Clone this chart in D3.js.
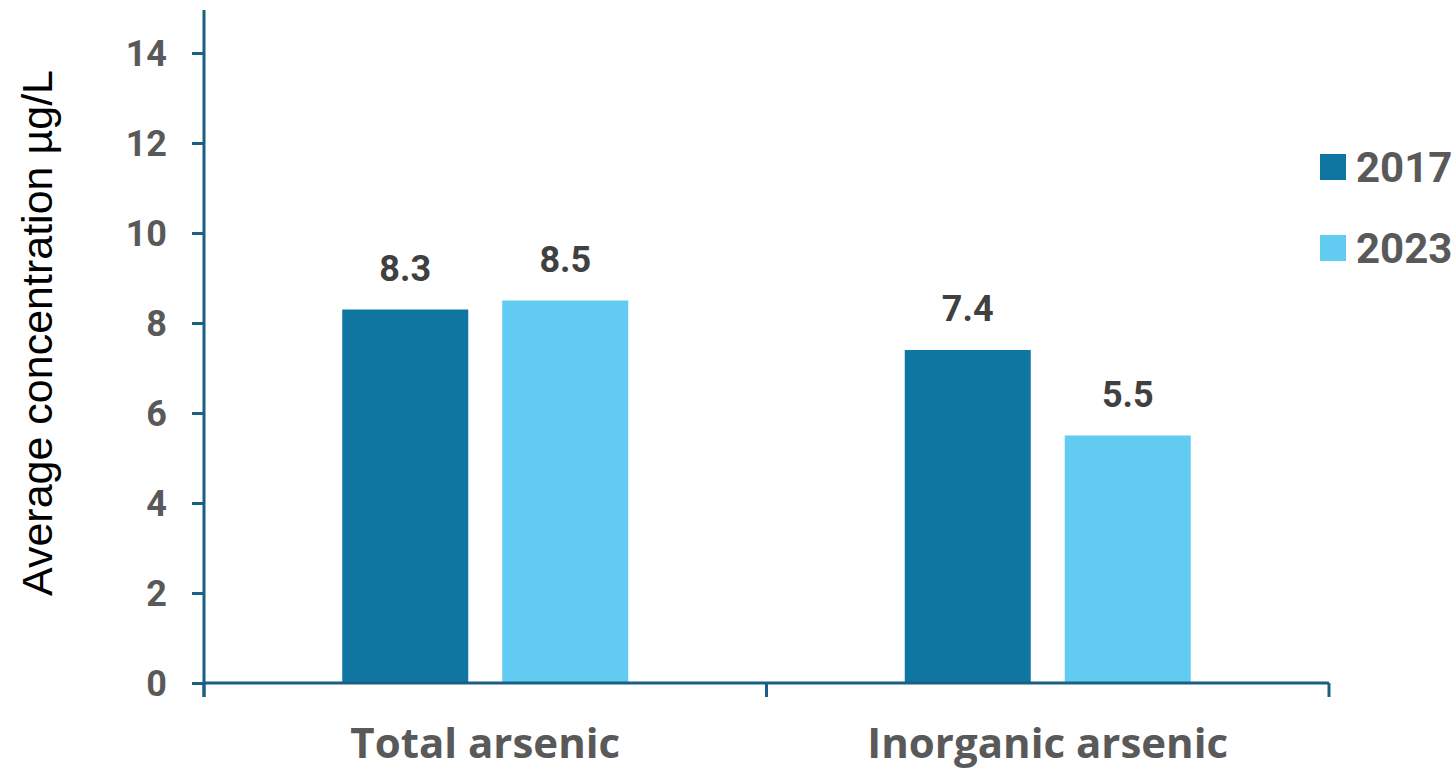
<!DOCTYPE html>
<html>
<head>
<meta charset="utf-8">
<script src="https://cdn.jsdelivr.net/npm/d3@7/dist/d3.min.js"></script>
<style>
  html, body { margin: 0; padding: 0; background: #ffffff; }
  svg { display: block; }
</style>
</head>
<body>
<svg id="chart" width="1453" height="768"></svg>
<script>
// Average arsenic concentration by type, per survey year
const categories = ["Total arsenic", "Inorganic arsenic"];
const seriesNames = ["2017", "2023"];
const values2017 = [8.3, 7.4];
const values2023 = [8.5, 5.5];
const yTicks = [0, 2, 4, 6, 8, 10, 12, 14];
const yTitle = "Average concentration µg/L";

const colors = { "2017": "#0e76a0", "2023": "#62cbf2" };
const axisColor = "#1b5f84";
const numFont = "Roboto, 'Liberation Sans', sans-serif";
const catFont = "'Open Sans', 'Liberation Sans', sans-serif";

const svg = d3.select("#chart");
const plot = { left: 204, right: 1329, top: 10, bottom: 683 };

const y = d3.scaleLinear().domain([0, 14]).range([plot.bottom, 683 - 14 * 45]);
const x0 = d3.scaleBand().domain(categories).range([plot.left, plot.right]).padding(0);
const x1 = d3.scaleBand().domain(seriesNames).range([0, x0.bandwidth()])
  .paddingInner(0.2125).paddingOuter(0.864);

const rows = categories.map((c, i) => ({
  category: c,
  series: [
    { name: "2017", value: values2017[i] },
    { name: "2023", value: values2023[i] }
  ]
}));

// Bars
const groups = svg.append("g").selectAll("g").data(rows).join("g")
  .attr("transform", d => `translate(${x0(d.category)},0)`);

groups.selectAll("rect").data(d => d.series).join("rect")
  .attr("x", d => x1(d.name))
  .attr("width", x1.bandwidth())
  .attr("y", d => y(d.value))
  .attr("height", d => y(0) - y(d.value))
  .attr("fill", d => colors[d.name]);

// Value labels above bars
groups.selectAll("text.val").data(d => d.series).join("text")
  .attr("class", "val")
  .attr("x", d => x1(d.name) + x1.bandwidth() / 2)
  .attr("y", d => y(d.value) - 29)
  .attr("text-anchor", "middle")
  .attr("font-family", numFont)
  .attr("font-weight", 700)
  .attr("font-size", 36)
  .attr("fill", "#404040")
  .text(d => d.value.toFixed(1));

// Y axis
const yAxis = d3.axisLeft(y).tickValues(yTicks).tickSize(12).tickPadding(25);
const gy = svg.append("g").attr("transform", `translate(${plot.left},0)`).call(yAxis);
gy.select(".domain").remove();
gy.append("line")
  .attr("x1", 0).attr("x2", 0)
  .attr("y1", plot.top).attr("y2", plot.bottom + 14)
  .attr("stroke", axisColor).attr("stroke-width", 3);
gy.selectAll(".tick line").attr("stroke", axisColor).attr("stroke-width", 3);
gy.selectAll(".tick text")
  .attr("font-family", numFont).attr("font-weight", 700).attr("font-size", 36)
  .attr("fill", "#595959").attr("dy", "0.36em");

// X axis with ticks at the band boundaries
const gx = svg.append("g").attr("transform", `translate(0,${plot.bottom})`);
gx.append("line")
  .attr("x1", plot.left).attr("x2", plot.right)
  .attr("y1", 0).attr("y2", 0)
  .attr("stroke", axisColor).attr("stroke-width", 3);
const boundaries = categories.map(c => x0(c)).concat([x0(categories[categories.length - 1]) + x0.bandwidth()]);
gx.selectAll("line.tick").data(boundaries).join("line")
  .attr("class", "tick")
  .attr("x1", d => d).attr("x2", d => d)
  .attr("y1", 0).attr("y2", 14)
  .attr("stroke", axisColor).attr("stroke-width", 3);
gx.selectAll("text").data(categories).join("text")
  .attr("x", d => x0(d) + x0.bandwidth() / 2)
  .attr("y", 75)
  .attr("text-anchor", "middle")
  .attr("font-family", catFont)
  .attr("font-weight", 700)
  .attr("font-size", 42)
  .attr("fill", "#595959")
  .text(d => d);

// Y axis title
svg.append("text")
  .attr("transform", `translate(52,333) rotate(-90)`)
  .attr("text-anchor", "middle")
  .attr("font-family", "'Liberation Sans', Arial, sans-serif")
  .attr("font-size", 43)
  .attr("fill", "#000000")
  .text(yTitle);

// Legend
const legend = svg.append("g").selectAll("g").data(seriesNames).join("g")
  .attr("transform", (d, i) => `translate(1320,${154 + i * 81})`);
legend.append("rect")
  .attr("width", 26).attr("height", 26)
  .attr("fill", d => colors[d]);
legend.append("text")
  .attr("x", 36).attr("y", 13).attr("dy", "0.36em")
  .attr("font-family", numFont).attr("font-weight", 700).attr("font-size", 42)
  .attr("fill", "#595959")
  .text(d => d);
</script>
</body>
</html>
